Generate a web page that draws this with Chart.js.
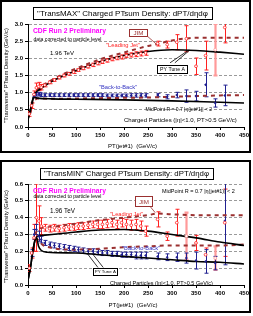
<!DOCTYPE html>
<html>
<head>
<meta charset="utf-8">
<script src="https://cdn.jsdelivr.net/npm/chart.js@4.4.0/dist/chart.umd.min.js"></script>
<style>
  body { margin: 0; background: #fff; width: 253px; height: 316px; overflow: hidden; position: relative; }
  canvas { position: absolute; left: 0; }
  #maxChart { top: 0; }
  #minChart { top: 158px; }
</style>
</head>
<body>
<canvas id="maxChart" width="253" height="157"></canvas>
<canvas id="minChart" width="253" height="157"></canvas>
<script>
// --- data ---
const xTicks = [0, 50, 100, 150, 200, 250, 300, 350, 400, 450];

// TransMAX
const maxLeadX = [2.5, 7.5, 12.5, 17.5, 22.5, 27.5, 35, 45, 55, 65, 75, 85, 95, 105, 115, 125, 135, 145, 155, 165, 175, 185, 195, 205, 215, 225, 235, 245, 270, 290, 310, 330, 350, 370, 410];
const maxLeadY = [0.38, 0.62, 0.95, 1.14, 1.18, 1.16, 1.22, 1.3, 1.37, 1.44, 1.5, 1.55, 1.6, 1.66, 1.71, 1.76, 1.81, 1.86, 1.9, 1.94, 1.98, 2.01, 2.04, 2.08, 2.1, 2.12, 2.14, 2.16, 2.43, 2.4, 2.47, 2.57, 1.77, 2.08, 2.9];
const maxLeadErr = [0.07, 0.08, 0.1, 0.14, 0.12, 0.08, 0.05, 0.04, 0.04, 0.04, 0.04, 0.04, 0.04, 0.04, 0.04, 0.04, 0.05, 0.05, 0.05, 0.05, 0.05, 0.05, 0.06, 0.06, 0.06, 0.07, 0.07, 0.07, 0.07, 0.1, 0.22, 0.38, 0.24, 0.42, 0.45];
const maxLeadExtraX = [390];
const maxLeadExtraY = [2.25];
const maxLeadExtraErr = [0.75];
const maxBackX = [12.5, 17.5, 22.5, 27.5, 35, 45, 55, 65, 75, 85, 95, 105, 115, 125, 135, 145, 155, 165, 175, 185, 195, 205, 215, 225, 235, 245, 270, 290, 310, 330, 350, 370, 390, 410];
const maxBackY = [0.9, 0.95, 0.96, 0.94, 0.93, 0.93, 0.93, 0.93, 0.93, 0.93, 0.93, 0.93, 0.93, 0.93, 0.93, 0.93, 0.93, 0.92, 0.92, 0.92, 0.92, 0.92, 0.92, 0.92, 0.92, 0.92, 0.93, 0.88, 0.93, 0.9, 0.9, 1.23, 0.7, 0.92];
const maxBackErr = [0.05, 0.05, 0.05, 0.05, 0.04, 0.04, 0.04, 0.04, 0.04, 0.04, 0.04, 0.04, 0.04, 0.04, 0.04, 0.04, 0.04, 0.04, 0.04, 0.04, 0.04, 0.04, 0.05, 0.05, 0.05, 0.05, 0.05, 0.06, 0.08, 0.18, 0.14, 0.35, 0.12, 0.3];
const maxPyLeadX = [0, 5, 10, 13, 20, 30, 50, 75, 100, 150, 200, 250, 300, 350, 400, 450];
const maxPyLeadY = [0.22, 0.5, 0.8, 0.95, 1.05, 1.15, 1.33, 1.5, 1.64, 1.9, 2.08, 2.2, 2.25, 2.23, 2.18, 2.12];
const maxPyBackX = [0, 5, 10, 13, 20, 50, 100, 200, 300, 400, 450];
const maxPyBackY = [0.22, 0.5, 0.8, 0.87, 0.84, 0.82, 0.81, 0.79, 0.76, 0.72, 0.7];
const maxJimLeadX = [5, 10, 15, 20, 30, 50, 75, 100, 150, 200, 250, 270, 300, 330, 350, 400, 450];
const maxJimLeadY = [0.4, 0.72, 0.98, 1.1, 1.2, 1.37, 1.55, 1.7, 1.97, 2.17, 2.36, 2.42, 2.52, 2.58, 2.6, 2.6, 2.6];
const maxJimBackX = [15, 20, 30, 50, 100, 150, 200, 250, 300, 350, 400, 450];
const maxJimBackY = [0.8, 0.83, 0.83, 0.82, 0.83, 0.84, 0.85, 0.86, 0.88, 0.9, 0.92, 0.93];

// TransMIN
const minLeadX = [2.5, 7.5, 12.5, 17.5, 22.5, 27.5, 35, 45, 55, 65, 75, 85, 95, 105, 115, 125, 135, 145, 155, 165, 175, 185, 195, 205, 215, 225, 235, 245, 270, 290, 310, 350, 370, 410];
const minLeadY = [0.1, 0.19, 0.28, 0.4, 0.38, 0.35, 0.34, 0.335, 0.34, 0.335, 0.34, 0.345, 0.345, 0.35, 0.35, 0.355, 0.36, 0.36, 0.36, 0.365, 0.37, 0.36, 0.37, 0.36, 0.355, 0.36, 0.35, 0.32, 0.39, 0.29, 0.37, 0.25, 0.18, 0.37];
const minLeadErr = [0.02, 0.03, 0.08, 0.2, 0.09, 0.05, 0.02, 0.02, 0.02, 0.02, 0.02, 0.02, 0.02, 0.02, 0.02, 0.02, 0.02, 0.025, 0.025, 0.025, 0.025, 0.025, 0.025, 0.03, 0.03, 0.03, 0.03, 0.03, 0.045, 0.025, 0.08, 0.045, 0.04, 0.2];
const minLeadExtraX = [330, 390];
const minLeadExtraY = [0.29, 0.16];
const minLeadExtraErr = [0.14, 0.07];
const minBackX = [7.5, 12.5, 17.5, 22.5, 27.5, 35, 45, 55, 65, 75, 85, 95, 105, 115, 125, 135, 145, 155, 165, 175, 185, 195, 205, 215, 225, 235, 245, 270, 290, 310, 330, 350, 370, 390, 410];
const minBackY = [0.19, 0.3, 0.33, 0.29, 0.27, 0.25, 0.24, 0.235, 0.23, 0.225, 0.22, 0.215, 0.21, 0.205, 0.2, 0.2, 0.195, 0.19, 0.19, 0.185, 0.185, 0.18, 0.18, 0.18, 0.175, 0.175, 0.175, 0.17, 0.165, 0.165, 0.16, 0.145, 0.14, 0.13, 0.38];
const minBackErr = [0.02, 0.03, 0.03, 0.03, 0.02, 0.015, 0.015, 0.015, 0.015, 0.015, 0.015, 0.015, 0.015, 0.015, 0.015, 0.015, 0.015, 0.015, 0.015, 0.015, 0.015, 0.015, 0.015, 0.015, 0.02, 0.02, 0.02, 0.02, 0.02, 0.025, 0.03, 0.05, 0.07, 0.04, 0.26];
const minPyLeadX = [0, 5, 10, 15, 20, 30, 50, 100, 150, 200, 250, 300, 350, 400, 450];
const minPyLeadY = [0.03, 0.1, 0.2, 0.27, 0.29, 0.295, 0.3, 0.315, 0.327, 0.33, 0.32, 0.3, 0.28, 0.255, 0.235];
const minPyBackX = [0, 5, 10, 15, 18, 22, 28, 40, 100, 150, 200, 250, 300, 350, 400, 450];
const minPyBackY = [0.03, 0.1, 0.2, 0.27, 0.28, 0.23, 0.205, 0.195, 0.19, 0.18, 0.17, 0.16, 0.15, 0.14, 0.135, 0.125];
const minJimLeadX = [15, 20, 30, 50, 75, 100, 150, 200, 250, 270, 300, 350, 400, 450];
const minJimLeadY = [0.3, 0.33, 0.34, 0.345, 0.355, 0.365, 0.385, 0.4, 0.415, 0.425, 0.42, 0.415, 0.415, 0.415];
const minJimBackX = [15, 20, 30, 50, 100, 150, 200, 250, 300, 350, 400, 450];
const minJimBackY = [0.28, 0.27, 0.24, 0.22, 0.21, 0.215, 0.225, 0.23, 0.235, 0.235, 0.235, 0.24];

const FONT = "'Liberation Sans', Arial, sans-serif";
const RED = '#ff2020', PINK = '#ff9a9a', BLUE = '#202090', JIM = '#9a3030';

function pts(xs, ys) { return xs.map((x, i) => ({ x, y: ys[i] })); }

// text sized so it spans w pixels (never above maxSize)
function fitText(ctx, text, x, y, w, weight, align, maxSize) {
  ctx.font = (weight || '') + ' 10px ' + FONT;
  let size = 10 * w / ctx.measureText(text).width;
  if (maxSize) size = Math.min(size, maxSize);
  ctx.font = (weight || '') + ' ' + size.toFixed(2) + 'px ' + FONT;
  ctx.textAlign = align || 'left';
  ctx.textBaseline = 'middle';
  ctx.fillText(text, x, y);
}

const errorBars = {
  id: 'errorBars',
  beforeDatasetsDraw(chart) {
    const { ctx, chartArea: a, scales: { x, y } } = chart;
    ctx.save();
    ctx.beginPath();
    ctx.rect(a.left, a.top, a.right - a.left, a.bottom - a.top);
    ctx.clip();
    chart.data.datasets.forEach(ds => {
      if (!ds.errors) return;
      ctx.strokeStyle = ds.errColor;
      ctx.lineWidth = ds.errWidth;
      ds.data.forEach((p, i) => {
        const px = Math.round(x.getPixelForValue(p.x)) + 0.5;
        const y1 = y.getPixelForValue(p.y - ds.errors[i]);
        const y2 = y.getPixelForValue(p.y + ds.errors[i]);
        ctx.beginPath();
        ctx.moveTo(px, y1); ctx.lineTo(px, y2);
        ctx.moveTo(px - 2, y1); ctx.lineTo(px + 2, y1);
        ctx.moveTo(px - 2, y2); ctx.lineTo(px + 2, y2);
        ctx.stroke();
      });
    });
    ctx.restore();
  }
};

const decor = {
  id: 'decor',
  afterDraw(chart, args, o) {
    const { ctx, scales: { x, y } } = chart;
    ctx.save();
    // panel frame
    ctx.strokeStyle = '#000';
    ctx.lineWidth = 2;
    ctx.strokeRect(1, o.frameTop, 249, 151);
    // title box
    const t = o.title;
    ctx.fillStyle = '#fff';
    ctx.fillRect(t.x, t.y, t.w, t.h);
    ctx.lineWidth = 1;
    ctx.strokeRect(t.x + 0.5, t.y + 0.5, t.w, t.h);
    ctx.fillStyle = '#000';
    fitText(ctx, t.text, t.x + t.w / 2, t.y + t.h / 2 + 0.5, t.w - 8, '', 'center');
    // axis titles
    fitText(ctx, 'PT(jet#1)  (GeV/c)', o.xTitle[0], o.xTitle[1], 49, '', 'center');
    ctx.save();
    ctx.translate(o.yTitle[0], o.yTitle[1]);
    ctx.rotate(-Math.PI / 2);
    fitText(ctx, '"Transverse" PTsum Density (GeV/c)', 0, 0, o.yTitle[2], '', 'center');
    ctx.restore();
    // notes placed in data coordinates
    o.notes.forEach(n => {
      ctx.fillStyle = n.color || '#000';
      fitText(ctx, n.text, x.getPixelForValue(n.x), y.getPixelForValue(n.y), n.w, n.weight, 'left', n.max);
    });
    // boxed labels with pointer lines
    o.boxes.forEach(b => {
      ctx.strokeStyle = b.stroke;
      ctx.lineWidth = 0.8;
      b.lines.forEach(l => {
        ctx.beginPath();
        ctx.moveTo(x.getPixelForValue(l[0]), y.getPixelForValue(l[1]));
        ctx.lineTo(x.getPixelForValue(l[2]), y.getPixelForValue(l[3]));
        ctx.stroke();
      });
      const cx = x.getPixelForValue(b.x), cy = y.getPixelForValue(b.y);
      ctx.fillStyle = '#fff';
      ctx.fillRect(cx - b.w / 2, cy - b.h / 2, b.w, b.h);
      ctx.lineWidth = 1;
      ctx.strokeRect(Math.round(cx - b.w / 2) + 0.5, Math.round(cy - b.h / 2) + 0.5, b.w, b.h);
      ctx.fillStyle = b.color;
      fitText(ctx, b.text, cx + 0.5, cy + 1, b.tw, '', 'center');
    });
    ctx.restore();
  }
};

function makeChart(id, d) {
  const tickFont = { family: FONT, size: 6, weight: 'bold' };
  return new Chart(document.getElementById(id), {
    type: 'scatter',
    data: {
      datasets: [
        { data: pts(d.leadX, d.leadY), errors: d.leadErr, errColor: RED, errWidth: 1,
          pointStyle: 'circle', pointRadius: 1.4, borderColor: RED, backgroundColor: '#fff', borderWidth: 0.8 },
        { data: pts(d.extraX, d.extraY), errors: d.extraErr, errColor: PINK, errWidth: 2.2,
          pointStyle: 'circle', pointRadius: 1.4, borderColor: PINK, backgroundColor: '#fff', borderWidth: 0.8 },
        { data: pts(d.backX, d.backY), errors: d.backErr, errColor: BLUE, errWidth: 1,
          pointStyle: 'rectRot', pointRadius: 1.5, borderColor: BLUE, backgroundColor: BLUE, borderWidth: 0 },
        { data: pts(d.pyLeadX, d.pyLeadY), showLine: true, pointRadius: 0, borderColor: '#000', borderWidth: 1.6, cubicInterpolationMode: 'monotone' },
        { data: pts(d.pyBackX, d.pyBackY), showLine: true, pointRadius: 0, borderColor: '#000', borderWidth: 1.6, cubicInterpolationMode: 'monotone' },
        { data: pts(d.jimLeadX, d.jimLeadY), showLine: true, pointRadius: 0, borderColor: JIM, borderWidth: 2, borderDash: [4, 4], cubicInterpolationMode: 'monotone' },
        { data: pts(d.jimBackX, d.jimBackY), showLine: true, pointRadius: 0, borderColor: JIM, borderWidth: 2, borderDash: [4, 4], cubicInterpolationMode: 'monotone' }
      ]
    },
    options: {
      responsive: false,
      animation: false,
      devicePixelRatio: 1,
      layout: { padding: { left: 0, right: 9, top: d.padTop, bottom: 10 } },
      plugins: { legend: { display: false }, tooltip: { enabled: false }, decor: d.decor },
      scales: {
        x: {
          type: 'linear', min: 0, max: 450,
          afterBuildTicks: s => { s.ticks = xTicks.map(v => ({ value: v })); },
          ticks: { font: tickFont, color: '#000', padding: 2, maxRotation: 0 },
          grid: { drawOnChartArea: false, tickLength: 3, color: '#000' },
          border: { color: '#000', width: 1 },
          afterFit: s => { s.height = 20; }
        },
        y: {
          min: 0, max: d.yMax,
          ticks: { stepSize: d.yStep, font: tickFont, color: '#000', padding: 2, callback: v => v.toFixed(1) },
          grid: { color: '#9a9a9a', tickColor: '#000', tickLength: 3 },
          border: { color: '#000', width: 1, dash: [3, 2] },
          afterFit: s => { s.width = 28; }
        }
      }
    },
    plugins: [errorBars, decor]
  });
}

makeChart('maxChart', {
  leadX: maxLeadX, leadY: maxLeadY, leadErr: maxLeadErr,
  extraX: maxLeadExtraX, extraY: maxLeadExtraY, extraErr: maxLeadExtraErr,
  backX: maxBackX, backY: maxBackY, backErr: maxBackErr,
  pyLeadX: maxPyLeadX, pyLeadY: maxPyLeadY, pyBackX: maxPyBackX, pyBackY: maxPyBackY,
  jimLeadX: maxJimLeadX, jimLeadY: maxJimLeadY, jimBackX: maxJimBackX, jimBackY: maxJimBackY,
  yMax: 3, yStep: 0.5, padTop: 24,
  decor: {
    frameTop: 1,
    title: { text: '"TransMAX" Charged PTsum Density: dPT/d\u03b7d\u03c6', x: 33, y: 7, w: 179, h: 12 },
    xTitle: [132.5, 146], yTitle: [6, 75.5, 95],
    notes: [
      { text: 'CDF Run 2 Preliminary', x: 10.4, y: 2.78, w: 73, weight: 'bold', color: '#ff00ff' },
      { text: 'data corrected to particle level', x: 11.5, y: 2.56, w: 68 },
      { text: '1.96 TeV', x: 45.8, y: 2.16, w: 24 },
      { text: '"Leading Jet"', x: 162.5, y: 2.39, w: 34, color: '#ff2020' },
      { text: '"Back-to-Back"', x: 148, y: 1.14, w: 38, color: '#3030c0' },
      { text: 'MidPoint R = 0.7 |\u03b7(jet#1)| < 2', x: 245, y: 0.52, w: 90, max: 5 },
      { text: 'Charged Particles (|\u03b7|<1.0, PT>0.5 GeV/c)', x: 200, y: 0.18, w: 113 }
    ],
    boxes: [
      { text: 'JIM', x: 229, y: 2.75, w: 18, h: 7, tw: 10, stroke: JIM, color: JIM, lines: [[249, 2.64, 267, 2.42]] },
      { text: 'PY Tune A', x: 300, y: 1.70, w: 30, h: 8, tw: 25, stroke: '#000', color: '#000',
        lines: [[296, 1.87, 335, 2.24], [306, 1.87, 337, 2.24]] }
    ]
  }
});

makeChart('minChart', {
  leadX: minLeadX, leadY: minLeadY, leadErr: minLeadErr,
  extraX: minLeadExtraX, extraY: minLeadExtraY, extraErr: minLeadExtraErr,
  backX: minBackX, backY: minBackY, backErr: minBackErr,
  pyLeadX: minPyLeadX, pyLeadY: minPyLeadY, pyBackX: minPyBackX, pyBackY: minPyBackY,
  jimLeadX: minJimLeadX, jimLeadY: minJimLeadY, jimBackX: minJimBackX, jimBackY: minJimBackY,
  yMax: 0.6, yStep: 0.1, padTop: 26,
  decor: {
    frameTop: 3,
    title: { text: '"TransMIN" Charged PTsum Density: dPT/d\u03b7d\u03c6', x: 40, y: 10, w: 173, h: 11 },
    xTitle: [133, 147], yTitle: [6, 78.5, 93],
    notes: [
      { text: 'CDF Run 2 Preliminary', x: 10.4, y: 0.56, w: 73, weight: 'bold', color: '#ff00ff' },
      { text: 'data corrected to particle level', x: 11.5, y: 0.523, w: 68 },
      { text: '1.96 TeV', x: 45.8, y: 0.44, w: 25 },
      { text: '"Leading Jet"', x: 171, y: 0.42, w: 33, color: '#ff2020' },
      { text: '"Back-to-Back"', x: 196, y: 0.217, w: 38, color: '#3030c0' },
      { text: 'MidPoint R = 0.7 |\u03b7(jet#1)| < 2', x: 279, y: 0.554, w: 73 },
      { text: 'Charged Particles (|\u03b7|<1.0, PT>0.5 GeV/c)', x: 171, y: 0.008, w: 103 }
    ],
    boxes: [
      { text: 'JIM', x: 240.6, y: 0.50, w: 17, h: 10, tw: 10, stroke: JIM, color: JIM, lines: [[254, 0.468, 265, 0.43]] },
      { text: 'PY Tune A', x: 160, y: 0.082, w: 24, h: 7, tw: 21, stroke: '#000', color: '#000',
        lines: [[146, 0.103, 124, 0.185], [157, 0.103, 135, 0.183]] }
    ]
  }
});
</script>
</body>
</html>
